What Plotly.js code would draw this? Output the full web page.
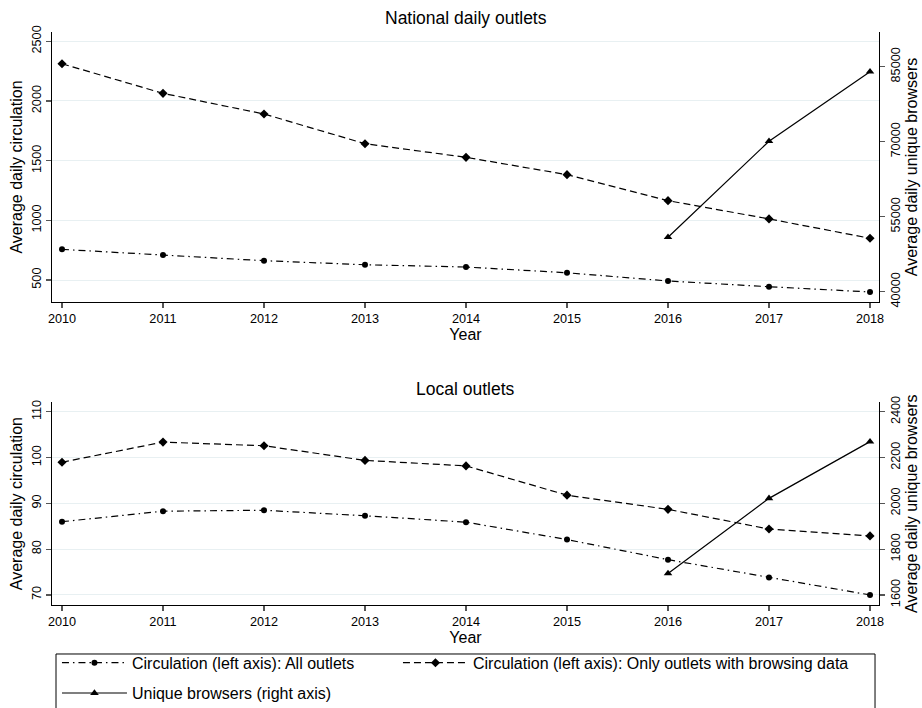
<!DOCTYPE html>
<html>
<head>
<meta charset="utf-8">
<script src="https://cdn.plot.ly/plotly-3.0.1.min.js"></script>
<style>html,body{margin:0;padding:0;background:#fff;}#chart{width:922px;height:708px;}</style>
</head>
<body>
<div id="chart"></div>
<script>
var years = [2010, 2011, 2012, 2013, 2014, 2015, 2016, 2017, 2018];
var browserYears = [2016, 2017, 2018];

// National daily outlets
var natAll = [757, 709, 662, 628, 609, 561, 492, 444, 400];
var natBrowsing = [2312, 2064, 1891, 1642, 1528, 1383, 1165, 1012, 850];
var natUnique = [50900, 70100, 84000];

// Local outlets
var locAll = [86.0, 88.3, 88.5, 87.3, 85.9, 82.1, 77.7, 73.8, 70.0];
var locBrowsing = [99.0, 103.4, 102.6, 99.4, 98.2, 91.8, 88.7, 84.4, 82.9];
var locUnique = [1694, 2022, 2270];

var natLeftTicks = [500, 1000, 1500, 2000, 2500];
var natRightTicks = [40000, 55000, 70000, 85000];
var locLeftTicks = [70, 80, 90, 100, 110];
var locRightTicks = [1600, 1800, 2000, 2200, 2400];

var seriesNames = [
  'Circulation (left axis): All outlets',
  'Circulation (left axis): Only outlets with browsing data',
  'Unique browsers (right axis)'
];

var FONT = 'Liberation Sans, Arial, Helvetica, sans-serif';
var dashDot = '7px,4px,1.5px,4px';
var dashed = '7px,4px';

function lineTrace(x, y, xa, ya, dash, symbol, size, name, showleg, legend) {
  return {
    x: x, y: y, xaxis: xa, yaxis: ya, type: 'scatter', mode: 'lines+markers',
    name: name, showlegend: showleg, legend: legend,
    line: {color: '#000', width: 1.2, dash: dash},
    marker: {color: '#000', symbol: symbol, size: size},
    hoverinfo: 'x+y'
  };
}

var data = [
  lineTrace(years, natAll, 'x', 'y', dashDot, 'circle', 6, seriesNames[0], true, 'legend'),
  lineTrace(years, natBrowsing, 'x', 'y', dashed, 'diamond', 7, seriesNames[1], true, 'legend'),
  lineTrace(browserYears, natUnique, 'x', 'y3', 'solid', 'triangle-up', 7.5, seriesNames[2], true, 'legend2'),
  lineTrace(years, locAll, 'x2', 'y2', dashDot, 'circle', 6, seriesNames[0], false, 'legend'),
  lineTrace(years, locBrowsing, 'x2', 'y2', dashed, 'diamond', 7, seriesNames[1], false, 'legend'),
  lineTrace(browserYears, locUnique, 'x2', 'y4', 'solid', 'triangle-up', 7.5, seriesNames[2], false, 'legend2')
];
data[0].legendwidth = 261;
data[1].legendwidth = 400;

var tickFont = {family: FONT, size: 12.7, color: '#000'};
var titleFont = {family: FONT, size: 16, color: '#000'};

function xAxis(anchor) {
  return {
    anchor: anchor, domain: [0, 1], range: [2009.901, 2018.089],
    tickmode: 'array', tickvals: years, ticktext: years.map(String),
    ticks: 'outside', ticklen: 5, tickwidth: 1.2, tickcolor: '#555',
    showline: true, linecolor: '#000', linewidth: 1, showgrid: false, zeroline: false,
    tickfont: tickFont, title: {text: 'Year', font: titleFont, standoff: 0}
  };
}
function yAxis(domain, range, ticks, side, grid, title) {
  return {
    domain: domain, range: range, side: side,
    tickmode: 'array', tickvals: ticks, ticktext: ticks.map(String),
    ticks: 'outside', ticklen: 5, tickwidth: 1.2, tickcolor: '#555',
    showline: true, linecolor: '#000', linewidth: 1,
    showgrid: grid, gridcolor: '#e8f0f2', gridwidth: 1, zeroline: false,
    tickangle: -90, tickfont: tickFont,
    title: {text: title, font: titleFont, standoff: 3}
  };
}

var topDom = [0.5288, 1];
var botDom = [0, 0.3538];

var layout = {
  width: 922, height: 708,
  margin: {l: 52, r: 43, t: 32, b: 103, autoexpand: false},
  paper_bgcolor: '#fff', plot_bgcolor: '#fff',
  font: {family: FONT, color: '#000'},
  xaxis: xAxis('y'),
  xaxis2: xAxis('y2'),
  yaxis: Object.assign(yAxis(topDom, [316, 2578], natLeftTicks, 'left', true, 'Average daily circulation'), {anchor: 'x'}),
  yaxis3: Object.assign(yAxis(topDom, [37940, 91940], natRightTicks, 'right', false, 'Average daily unique browsers'), {anchor: 'x', overlaying: 'y'}),
  yaxis2: Object.assign(yAxis(botDom, [67.8, 112.1], locLeftTicks, 'left', true, 'Average daily circulation'), {anchor: 'x2'}),
  yaxis4: Object.assign(yAxis(botDom, [1556, 2442], locRightTicks, 'right', false, 'Average daily unique browsers'), {anchor: 'x2', overlaying: 'y2'}),
  legend: {
    orientation: 'h', x: 0.006, xanchor: 'left', y: -0.0712, yanchor: 'top',
    itemwidth: 65, font: {family: FONT, size: 16, color: '#000'},
    bgcolor: 'rgba(0,0,0,0)', borderwidth: 0, itemclick: false, itemdoubleclick: false
  },
  legend2: {
    orientation: 'h', x: 0.006, xanchor: 'left', y: -0.1241, yanchor: 'top',
    itemwidth: 65, font: {family: FONT, size: 16, color: '#000'},
    bgcolor: 'rgba(0,0,0,0)', borderwidth: 0, itemclick: false, itemdoubleclick: false
  },
  shapes: [{
    type: 'rect', xref: 'paper', yref: 'paper',
    x0: 0.00484, x1: 0.9952, y0: -0.0855, y1: -0.25,
    line: {color: '#000', width: 1}, fillcolor: 'rgba(0,0,0,0)', layer: 'above'
  }],
  annotations: [
    {text: 'National daily outlets', xref: 'paper', yref: 'paper', x: 0.5, y: 1, yshift: 14,
     xanchor: 'center', yanchor: 'middle', showarrow: false, font: {family: FONT, size: 17.5, color: '#000'}},
    {text: 'Local outlets', xref: 'paper', yref: 'paper', x: 0.5, y: botDom[1], yshift: 13,
     xanchor: 'center', yanchor: 'middle', showarrow: false, font: {family: FONT, size: 17.5, color: '#000'}}
  ]
};

Plotly.newPlot('chart', data, layout, {displayModeBar: false, staticPlot: true});
</script>
</body>
</html>
